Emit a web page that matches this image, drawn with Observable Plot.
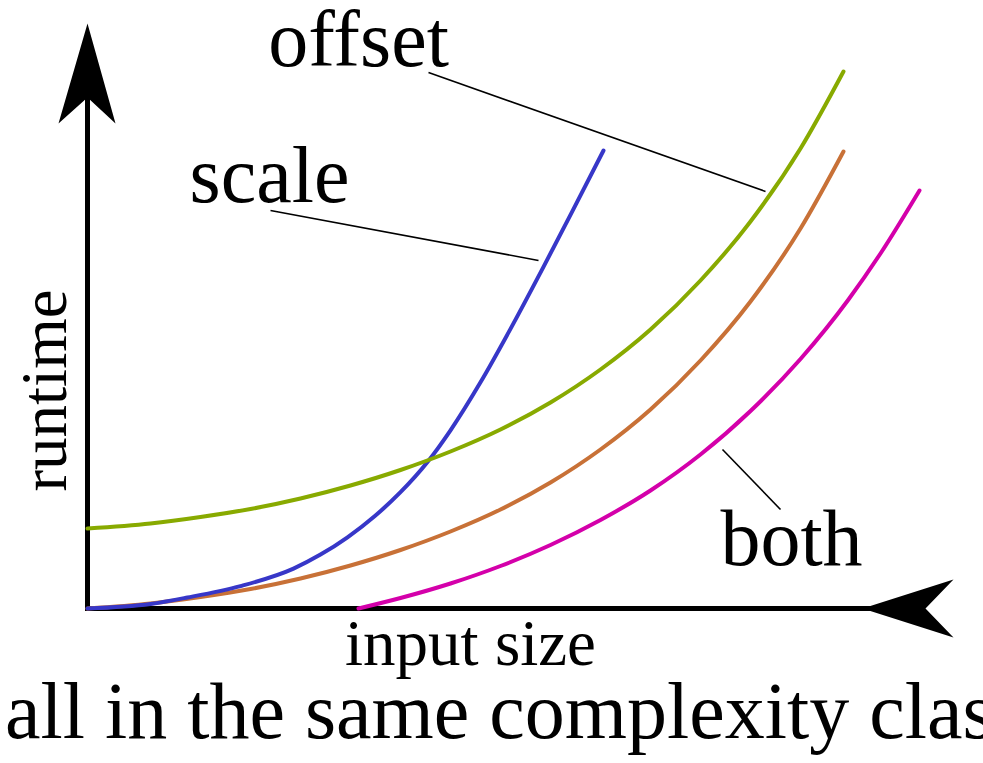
<!DOCTYPE html>
<html><head><meta charset="utf-8">
<script src="https://cdn.jsdelivr.net/npm/d3@7"></script>
<script src="https://cdn.jsdelivr.net/npm/@observablehq/plot@0.6"></script>
<style>
body{margin:0;background:#fff;}
#wrap{position:relative;width:983px;height:763px;overflow:hidden;background:#fff;}
#caption{position:absolute;left:5px;top:671px;font-family:"Liberation Serif",serif;font-size:80px;line-height:80px;white-space:nowrap;color:#000;}
</style></head><body>
<div id="wrap"><div id="chart"></div><div id="caption">all in the same complexity class</div></div>
<script>
// ---- data (abstract units: input size, runtime) ----
const seriesNames = ["base", "scale", "offset", "both"];
const seriesColors = ["#c87137", "#3737c8", "#88aa00", "#d400aa"];

const baseX   = [0, 6.3, 11.3, 16.3, 21.3, 26.3, 31.3, 36.3, 41.3, 46.3, 51.3, 56.3, 61.3, 66.3, 71.3, 75.6];
const baseY   = [0, 0.5, 1.15, 1.95, 3.0, 4.3, 5.85, 7.7, 9.9, 12.6, 15.9, 19.9, 24.8, 30.7, 38.0, 45.7];
const offsetY = [8.0, 8.5, 9.15, 9.95, 11.0, 12.3, 13.85, 15.7, 17.9, 20.6, 23.9, 27.9, 32.8, 38.7, 46.0, 53.7];

const scaleX  = [0, 6.3, 10.0, 15.3, 20.6, 23.3, 26.0, 28.8, 31.3, 34.0, 36.3, 39.3, 42.3, 45.6, 48.8, 51.6];
const scaleY  = [0, 0.45, 1.1, 2.24, 3.99, 5.39, 7.12, 9.3, 11.63, 14.65, 17.82, 22.62, 27.96, 34.16, 40.34, 45.8];

const bothX   = [27.1, 31.3, 36.3, 41.3, 46.3, 51.3, 56.3, 61.3, 66.3, 71.3, 76.1, 79.3, 83.2];
const bothY   = [0, 1.05, 2.5, 4.25, 6.35, 8.85, 11.8, 15.4, 19.75, 24.95, 30.9, 35.5, 41.8];

// annotation labels and leader lines
const labelText = ["offset", "scale", "both"];
const labelX    = [27.1, 18.2, 70.4];
const labelY    = [54.3, 40.7, 4.4];
const leaderX1  = [34.1, 18.3, 63.5];
const leaderY1  = [53.6, 39.8, 15.9];
const leaderX2  = [67.8, 45.1, 69.3];
const leaderY2  = [41.7, 34.8, 9.9];

// axis titles
const axisTitles = ["input size", "runtime"];

// axis geometry (data units)
const xMax = 86.6, yMax = 58.5;
const xAxisLine = [[0, 0], [80, 0]];
const yAxisLine = [[0, 0], [0, 52]];
const xArrow = [[77.5, 0], [86.6, 2.9], [83.8, 0], [86.6, -2.9]];
const yArrow = [[0, 58.5], [-2.9, 48.5], [0, 51.1], [2.8, 48.5]];

// ---- build tables ----
const rows = [];
baseX.forEach((x, i) => rows.push({series: "base", x, y: baseY[i]}));
scaleX.forEach((x, i) => rows.push({series: "scale", x, y: scaleY[i]}));
baseX.forEach((x, i) => rows.push({series: "offset", x, y: offsetY[i]}));
bothX.forEach((x, i) => rows.push({series: "both", x, y: bothY[i]}));

const labels = labelText.map((t, i) => ({t, x: labelX[i], y: labelY[i]}));
const leaders = labelText.map((t, i) => ({x1: leaderX1[i], y1: leaderY1[i], x2: leaderX2[i], y2: leaderY2[i]}));
const pts = a => a.map(([x, y]) => ({x, y}));
const series = s => rows.filter(d => d.series === s);

const font = "Liberation Serif";
const curveOpts = {x: "x", y: "y", stroke: "series", strokeWidth: 4, curve: "monotone-x"};

const chart = Plot.plot({
  width: 983,
  height: 683,
  marginLeft: 87,
  marginRight: 30,
  marginTop: 23,
  marginBottom: 75,
  style: {overflow: "visible", background: "transparent"},
  x: {domain: [0, xMax], axis: null},
  y: {domain: [0, yMax], axis: null},
  color: {domain: seriesNames, range: seriesColors},
  marks: [
    Plot.line(pts(yAxisLine), {x: "x", y: "y", stroke: "black", strokeWidth: 5, strokeLinecap: "square"}),
    Plot.line(pts(xAxisLine), {x: "x", y: "y", stroke: "black", strokeWidth: 5, strokeLinecap: "square"}),
    Plot.line(pts(yArrow), {x: "x", y: "y", fill: "black", stroke: "none"}),
    Plot.line(pts(xArrow), {x: "x", y: "y", fill: "black", stroke: "none"}),
    Plot.line(series("base"), curveOpts),
    Plot.line(series("scale"), curveOpts),
    Plot.line(series("offset"), curveOpts),
    Plot.line(series("both"), curveOpts),
    Plot.link(leaders, {x1: "x1", y1: "y1", x2: "x2", y2: "y2", stroke: "black", strokeWidth: 1.6}),
    Plot.text(labels, {x: "x", y: "y", text: "t", fontSize: 80, fontFamily: font, lineAnchor: "bottom", fill: "black"}),
    Plot.text([axisTitles[0]], {x: 38.3, y: -5.6, text: d => d, fontSize: 65, fontFamily: font, lineAnchor: "bottom", fill: "black"}),
    Plot.text([axisTitles[1]], {x: -2.2, y: 21.8, text: d => d, rotate: -90, fontSize: 65, fontFamily: font, lineAnchor: "bottom", fill: "black"})
  ]
});
document.getElementById("chart").appendChild(chart);
</script>
</body></html>
